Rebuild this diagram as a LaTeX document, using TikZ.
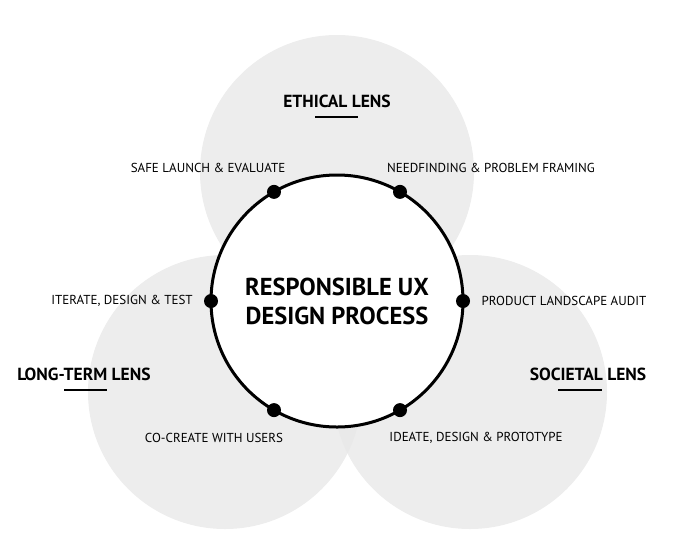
\documentclass[tikz,border=0pt]{standalone}
\usepackage{fontspec}
\setmainfont{PT Sans}
\usetikzlibrary{calc}
\begin{document}
\begin{tikzpicture}[x=1pt,y=-1pt,
  lens/.style={fill=black!9,draw=none},
  lbl/.style={font=\fontsize{13}{15}\selectfont},
  lenslbl/.style={font=\bfseries\fontsize{17.5}{20}\selectfont},
  dot/.style={circle,fill=black,inner sep=0pt,minimum size=14pt}]
\useasboundingbox (0,0) rectangle (700,539);
\fill[lens,opacity=0.8] (337,172) circle (137);
\fill[lens,opacity=0.8] (225,392) circle (137);
\fill[lens,opacity=0.8] (470,392) circle (137);
\draw[line width=3pt,fill=white] (337,301) circle (126);
\node[font=\bfseries\fontsize{24.5}{29}\selectfont,align=center] (c) at (337,301) {RESPONSIBLE UX\\DESIGN PROCESS};
\foreach \n/\a in {d1/120,d2/60,d3/0,d4/-60,d5/-120,d6/180}
  \node[dot] (\n) at ($(337,301)+({126*cos(\a)},{-126*sin(\a)})$) {};
\node[lbl] (t1) at (208,168) {SAFE LAUNCH \& EVALUATE};
\node[lbl] (t2) at (491,168) {NEEDFINDING \& PROBLEM FRAMING};
\node[lbl] (t3) at (564,301) {PRODUCT LANDSCAPE AUDIT};
\node[lbl] (t4) at (476,438) {IDEATE, DESIGN \& PROTOTYPE};
\node[lbl] (t5) at (214,438) {CO-CREATE WITH USERS};
\node[lbl] (t6) at (122,301) {ITERATE, DESIGN \& TEST};
\node[lenslbl] (e) at (337,101) {ETHICAL LENS};
\node[lenslbl] (l) at (84,374) {LONG-TERM LENS};
\node[lenslbl] (s) at (588,374) {SOCIETAL LENS};
\draw[line width=1.5pt] (315,117) -- (358,117);
\draw[line width=1.5pt] (64,390) -- (107,390);
\draw[line width=1.5pt] (558,390) -- (602,390);
\end{tikzpicture}
\end{document}
